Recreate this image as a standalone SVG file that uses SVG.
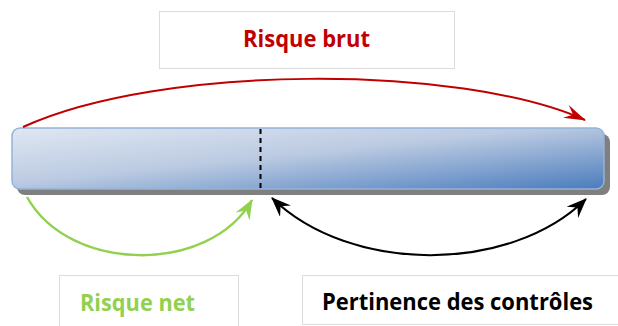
<svg xmlns="http://www.w3.org/2000/svg" width="618" height="326" viewBox="0 0 618 326">
<defs>
<style>
.box{fill:#fff;stroke:#dcdcdc;stroke-width:1}
.lbl{font-family:"Open Sans","Liberation Sans",Arial,sans-serif;font-weight:bold;font-size:23.5px}
.conn{fill:none}
</style>
<linearGradient id="barGrad" x1="0" y1="0" x2="1" y2="1">
<stop offset="0" stop-color="#dfe7f2"/>
<stop offset="0.45" stop-color="#bccbe2"/>
<stop offset="1" stop-color="#4a7cbd"/>
</linearGradient>
<marker id="arrRed" viewBox="0 0 22 14" refX="21" refY="7" markerWidth="22" markerHeight="14" markerUnits="userSpaceOnUse" orient="auto">
<path d="M0,0 L22,7 L0,14 L8,7 z" fill="#c00000"/>
</marker>
<marker id="arrGreen" viewBox="0 0 20 16" refX="19" refY="8" markerWidth="20" markerHeight="16" markerUnits="userSpaceOnUse" orient="auto">
<path d="M0,0 L20,8 L0,16 L7,8 z" fill="#92d050"/>
</marker>
<marker id="arrBlack" viewBox="0 0 20 16" refX="19" refY="8" markerWidth="20" markerHeight="16" markerUnits="userSpaceOnUse" orient="auto-start-reverse">
<path d="M0,0 L20,8 L0,16 L7,8 z" fill="#000"/>
</marker>
</defs>
<g id="bar">
<rect x="17" y="134" width="593" height="61" rx="8" fill="#7f7f7f"/>
<rect x="12" y="128" width="592" height="61" rx="8" fill="url(#barGrad)" stroke="#95b3d7" stroke-width="1.5"/>
<line x1="260.5" y1="129" x2="260.5" y2="189" stroke="#000" stroke-width="2" stroke-dasharray="5,4"/>
</g>
<g id="connectors">
<path class="conn" d="M23,127 C160,64 460,64 585,120" stroke="#c00000" stroke-width="2" marker-end="url(#arrRed)"/>
<path class="conn" d="M27,197 C70,274 210,274 252,200" stroke="#92d050" stroke-width="2.5" marker-end="url(#arrGreen)"/>
<path class="conn" d="M272,198 C350,274 510,274 586,199" stroke="#000" stroke-width="2" marker-start="url(#arrBlack)" marker-end="url(#arrBlack)"/>
</g>
<g id="risque-brut">
<rect class="box" x="159.5" y="11.5" width="295" height="57"/>
<text class="lbl" x="243" y="47" fill="#c00000" textLength="127" lengthAdjust="spacingAndGlyphs">Risque brut</text>
</g>
<g id="risque-net">
<rect class="box" x="59.5" y="275.5" width="179" height="60"/>
<text class="lbl" x="80" y="311" fill="#92d050" textLength="115" lengthAdjust="spacingAndGlyphs">Risque net</text>
</g>
<g id="pertinence">
<rect class="box" x="302.5" y="275.5" width="330" height="49"/>
<text class="lbl" x="322" y="310" fill="#000" textLength="271" lengthAdjust="spacingAndGlyphs">Pertinence des contrôles</text>
</g>
</svg>
